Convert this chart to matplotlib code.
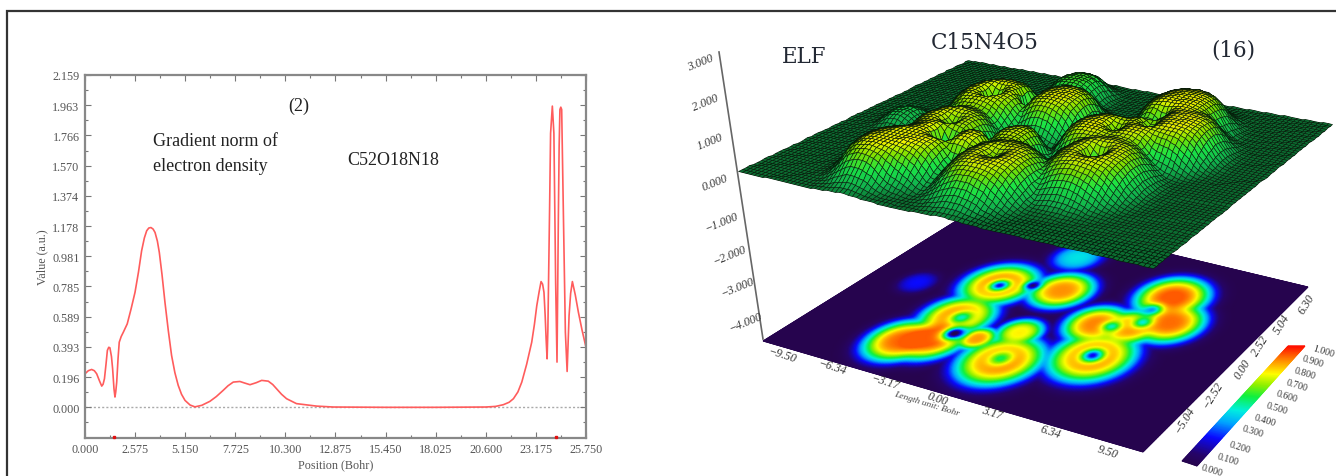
import numpy as np
import matplotlib
matplotlib.use('Agg')
import matplotlib.pyplot as plt
from matplotlib.colors import LinearSegmentedColormap

# -----------------------------------
# Data: line profile (left panel)
# -----------------------------------
pos_bohr = [0.0, 0.17, 0.34, 0.48, 0.6, 0.75, 0.86, 0.93, 1.0, 1.08, 1.15, 1.22, 1.28, 1.36, 1.42, 1.49, 1.54,
            1.58, 1.63, 1.7, 1.76, 1.86, 1.97, 2.17, 2.37, 2.57, 2.75, 2.91, 3.05, 3.17, 3.28, 3.39, 3.5, 3.6,
            3.72, 3.82, 3.96, 4.11, 4.28, 4.45, 4.62, 4.79, 4.96, 5.14, 5.4, 5.65, 6.0, 6.42, 6.75, 7.1, 7.35,
            7.62, 7.96, 8.2, 8.48, 8.8, 9.08, 9.42, 9.65, 9.85, 10.1, 10.36, 10.87, 11.9, 12.76, 15.45, 18.0,
            20.6, 21.1, 21.5, 21.8, 22.02, 22.25, 22.45, 22.7, 22.96, 23.1, 23.22, 23.34, 23.44, 23.52, 23.59,
            23.65, 23.7, 23.75, 23.79, 23.82, 23.88, 23.93, 24.02, 24.1, 24.15, 24.19, 24.26, 24.33, 24.37,
            24.41, 24.455, 24.5, 24.59, 24.69, 24.78, 24.88, 24.96, 25.05, 25.2, 25.36, 25.55, 25.75]
grad_norm = [0.218, 0.238, 0.246, 0.238, 0.218, 0.17, 0.138, 0.15, 0.186, 0.28, 0.37, 0.39, 0.387, 0.33, 0.25,
             0.12, 0.067, 0.1, 0.164, 0.32, 0.423, 0.46, 0.488, 0.542, 0.64, 0.747, 0.88, 1.017, 1.1, 1.147,
             1.165, 1.168, 1.158, 1.136, 1.08, 1.006, 0.86, 0.682, 0.5, 0.337, 0.225, 0.143, 0.085, 0.045, 0.015,
             0.003, 0.013, 0.039, 0.07, 0.11, 0.14, 0.164, 0.168, 0.158, 0.147, 0.16, 0.175, 0.17, 0.148, 0.12,
             0.085, 0.056, 0.024, 0.008, 0.002, 0.0, 0.0, 0.002, 0.006, 0.017, 0.033, 0.056, 0.1, 0.164, 0.28,
             0.423, 0.54, 0.66, 0.75, 0.817, 0.8, 0.747, 0.6, 0.445, 0.315, 0.5, 0.77, 1.3, 1.78, 1.957, 1.78,
             1.25, 0.81, 0.294, 1.24, 1.7, 1.935, 1.95, 1.935, 1.24, 0.488, 0.233, 0.596, 0.74, 0.817, 0.73,
             0.617, 0.5, 0.39]
critical_pts = [1.49, 24.2]

x_major = [0.0, 2.575, 5.15, 7.725, 10.3, 12.875, 15.45, 18.025, 20.6, 23.175, 25.75]
y_major = [0.0, 0.196, 0.393, 0.589, 0.785, 0.981, 1.178, 1.374, 1.570, 1.766, 1.963, 2.159]

# -----------------------------------
# Data: ELF blobs (screen px, size in Bohr, height)
# -----------------------------------
blob_px = [1001, 1093, 1000, 1062, 958, 902, 932, 977, 1020, 1097, 1130, 1170, 1173, 918, 1078]
blob_py = [361, 357, 285, 291, 317, 341, 339, 339, 333, 325, 328, 323, 298, 283, 258]
blob_size = [1.8, 1.85, 1.75, 1.5, 1.65, 1.55, 1.6, 0.85, 1.05, 1.45, 1.4, 1.6, 1.7, 0.9, 1.3]
blob_amp = [0.9, 0.9, 0.9, 0.86, 0.88, 0.9, 0.93, 0.85, 0.75, 0.88, 0.86, 0.9, 0.93, 0.2, 0.4]

hole_px = [1001, 1093, 1000, 1033, 962, 955, 1112, 1153, 1143]
hole_py = [359, 356, 286, 286, 318, 334, 327, 310, 323]
hole_size = [0.5, 0.48, 0.45, 0.36, 0.48, 0.45, 0.42, 0.42, 0.42]
hole_depth = [0.42, 0.8, 0.8, 0.85, 0.5, 1.0, 0.5, 0.55, 0.5]

z_ticks = ['3.000', '2.000', '1.000', '0.000', '\u22121.000', '\u22122.000', '\u22123.000', '\u22124.000']
x3d_ticks = ['\u22129.50', '\u22126.34', '\u22123.17', '0.00', '3.17', '6.34', '9.50']
y3d_ticks = ['\u22125.04', '\u22122.52', '0.00', '2.52', '5.04', '6.30']
cbar_ticks = ['1.000', '0.900', '0.800', '0.700', '0.600', '0.500', '0.400', '0.300', '0.200', '0.100', '0.000']

# -----------------------------------
# Layout, in reference pixels
# -----------------------------------
W, H = 1336, 477
upper_corners = [(738, 172), (1153, 269), (1332, 125), (968, 61)]
lower_corners = [(763, 342), (1143, 453), (1308, 288), (977, 209)]
cbar_corners = [(1182, 462), (1197, 467), (1305, 347), (1288, 347)]
z_tick_xy = [(700, 63), (705, 103), (710, 142), (715, 183), (722, 223), (730, 256), (738, 288), (746, 323)]
x3d_tick_xy = [(782, 356), (832, 368), (885, 383), (937, 399), (992, 413), (1050, 432), (1108, 452)]
y3d_tick_xy = [(1185, 420), (1213, 395), (1243, 370), (1260, 347), (1282, 325), (1307, 305)]
cbar_tick_xy = [(1323, 352), (1313, 362), (1305, 374), (1297, 386), (1287, 397), (1277, 409),
                (1265, 421), (1253, 432), (1240, 448), (1228, 460), (1212, 471)]
BOHR_X, BOHR_Y = 19.0, 12.6
SURF_HEIGHT = 40

plt.rcParams['font.family'] = ['Liberation Serif', 'DejaVu Serif']
GRAY = '#555555'


def homography(corners):
    src = [(0, 0), (1, 0), (1, 1), (0, 1)]
    A, b = [], []
    for (u, v), (x, y) in zip(src, corners):
        A.append([u, v, 1, 0, 0, 0, -u * x, -v * x])
        A.append([0, 0, 0, u, v, 1, -u * y, -v * y])
        b += [x, y]
    return np.append(np.linalg.solve(np.array(A, float), np.array(b, float)), 1).reshape(3, 3)


def warp(M, u, v):
    w = M[2, 0] * u + M[2, 1] * v + M[2, 2]
    return (M[0, 0] * u + M[0, 1] * v + M[0, 2]) / w, (M[1, 0] * u + M[1, 1] * v + M[1, 2]) / w


def to_bohr(M_inv, px, py):
    u, v = warp(M_inv, np.array(px, float), np.array(py, float))
    return u * BOHR_X, v * BOHR_Y


M_upper = homography(upper_corners)
M_lower = homography(lower_corners)
M_inv = np.linalg.inv(M_lower)
blob_x, blob_y = to_bohr(M_inv, blob_px, blob_py)
hole_x, hole_y = to_bohr(M_inv, hole_px, hole_py)


def elf_field(u, v):
    bx, by = u * BOHR_X, v * BOHR_Y
    total = np.zeros_like(bx)
    # soft maximum keeps the gaps between neighbouring basins open
    for cx, cy, s, a in zip(blob_x, blob_y, blob_size, blob_amp):
        r = np.hypot(bx - cx, by - cy)
        total = total + (a * np.exp(-(r / s) ** 3.2)) ** 5
    f = np.minimum(total ** 0.2, 0.92)
    for cx, cy, s, d in zip(hole_x, hole_y, hole_size, hole_depth):
        r = np.hypot(bx - cx, by - cy)
        f = f * (1 - d * np.exp(-(r / s) ** 2))
    return f


fig = plt.figure(figsize=(W / 100, H / 100), dpi=100)

# -----------------------------------
# 1. Left panel: gradient norm profile
# -----------------------------------
ax = fig.add_axes([85 / W, 1 - 438.5 / H, 501 / W, 362.5 / H])
ax.axhline(0, color='#aaaaaa', lw=1, ls=(0, (1.5, 1.5)), zorder=1)
ax.plot(pos_bohr, grad_norm, color='#ff5c5c', lw=1.2, zorder=2)
ax.plot(critical_pts, [-0.192] * len(critical_pts), 's', ms=2, color='#e01010', clip_on=False, zorder=3)
ax.set_xlim(0, 25.75)
ax.set_ylim(-0.196, 2.159)
ax.set_xticks(x_major)
ax.set_xticklabels([f'{t:.3f}' for t in x_major])
ax.set_yticks(y_major)
ax.set_yticklabels([f'{t:.3f}' for t in y_major])
ax.set_xticks(np.arange(1, 20, 2) * 1.2875, minor=True)
ax.set_yticks(np.arange(-1, 22, 2) * 0.09814, minor=True)
ax.tick_params(which='major', direction='in', top=True, right=True, length=4.5, width=0.8, color='#777777',
               labelsize=8.7, labelcolor=GRAY, pad=4)
ax.tick_params(which='minor', direction='in', top=True, right=True, length=2.5, width=0.8, color='#777777')
for s in ax.spines.values():
    s.set_color('#888888')
    s.set_linewidth(1.6)
ax.set_xlabel('Position (Bohr)', fontsize=8.7, color=GRAY, labelpad=2)
ax.set_ylabel('Value (a.u.)', fontsize=8.7, color=GRAY, labelpad=2.5)

# -----------------------------------
# 2. Full-figure layer in reference pixels: right panel and annotations
# -----------------------------------
ov = fig.add_axes([0, 0, 1, 1], facecolor='none')
ov.set_xlim(0, W)
ov.set_ylim(H, 0)
ov.axis('off')

ov.plot([6.5, 6.5, W], [H, 11.5, 11.5], color='#333333', lw=1.6, solid_joinstyle='miter')

for s, x, y, txt in [(13, 299, 106, '(2)'), (13, 153, 142, 'Gradient norm of'),
                     (13, 153, 167, 'electron density'), (13, 347, 161, 'C52O18N18')]:
    ov.text(x, y, txt, fontsize=s, color='#222222', ha='center' if txt == '(2)' else 'left', va='center')

elf_cmap = LinearSegmentedColormap.from_list('elf', [
    (0.0, '#26044e'), (0.07, '#26046a'), (0.2, '#0a0aff'), (0.32, '#00a8ff'), (0.42, '#00f0e0'),
    (0.54, '#10f040'), (0.64, '#90f000'), (0.74, '#ffff00'), (0.87, '#ff8a00'), (1.0, '#ff1000')])
surf_cmap = LinearSegmentedColormap.from_list('surf', [
    (0.0, '#0c6e32'), (0.1, '#10a84a'), (0.3, '#18d040'), (0.55, '#70cc00'), (0.85, '#e4e400'), (1.0, '#f0f000')])

# lower ELF map
uu, vv = np.meshgrid(np.linspace(0, 1, 401), np.linspace(0, 1, 301))
lx, ly = warp(M_lower, uu, vv)
ov.pcolormesh(lx, ly, elf_field(uu, vv), cmap=elf_cmap, vmin=0, vmax=1, shading='gouraud', zorder=2)

# upper relief, rows run back to front so that near cells paint over far ones
nu, nv = 92, 72
uu, vv = np.meshgrid(np.linspace(0, 1, nu + 1), np.linspace(1, 0, nv + 1))
ff = elf_field(uu, vv)
sx, sy = warp(M_upper, uu, vv)
# tops are rounded off, the humps in the relief are flatter than the map values
sy = sy - SURF_HEIGHT * np.tanh(1.7 * ff)
cell = 0.25 * (ff[:-1, :-1] + ff[1:, :-1] + ff[:-1, 1:] + ff[1:, 1:])
du = 0.5 * ((ff[:-1, 1:] - ff[:-1, :-1]) + (ff[1:, 1:] - ff[1:, :-1])) * nu / BOHR_X
dv = 0.5 * ((ff[:-1, :-1] - ff[1:, :-1]) + (ff[:-1, 1:] - ff[1:, 1:])) * nv / BOHR_Y
shade = np.clip(1 - 1.5 * np.clip(du - dv, 0, None) + 0.12 * np.clip(dv - du, 0, None), 0.12, 1.1)
rgb = surf_cmap(np.clip(cell, 0, 1))[..., :3] * shade[..., None]
ov.pcolormesh(sx, sy, np.clip(rgb, 0, 1), edgecolors='#041a08', linewidth=0.42, antialiased=True, zorder=3)

# z axis and tick labels
ov.plot([719, 763], [53, 340], color='#666666', lw=1.2, zorder=4)
for (x, y), t in zip(z_tick_xy, z_ticks):
    ov.text(x, y, t, fontsize=8.6, rotation=22, color='#333333', ha='center', va='center', style='italic', zorder=5)
for (x, y), t in zip(x3d_tick_xy, x3d_ticks):
    ov.text(x, y, t, fontsize=8.6, rotation=-18, color='#333333', ha='center', va='center', style='italic', zorder=5)
ov.text(927, 404, 'Length unit: Bohr', fontsize=6.8, rotation=-17, color='#444444', ha='center', va='center',
        style='italic', zorder=5, rotation_mode='anchor')
for (x, y), t in zip(y3d_tick_xy, y3d_ticks):
    ov.text(x, y, t, fontsize=8.6, rotation=58, color='#333333', ha='center', va='center', style='italic', zorder=5)

# colour bar
M_cbar = homography(cbar_corners)
cu, cv = np.meshgrid(np.linspace(0, 1, 2), np.linspace(0, 1, 201))
bx, by = warp(M_cbar, cu, cv)
ov.pcolormesh(bx, by, cv, cmap=elf_cmap, vmin=0, vmax=1, shading='gouraud', zorder=4)
for (x, y), t in zip(cbar_tick_xy, cbar_ticks):
    ov.text(x, y, t, fontsize=7, rotation=-17, color='#333333', ha='center', va='center', zorder=5)

for x, y, t in [(804, 57, 'ELF'), (985, 43, 'C15N4O5'), (1233, 51, '(16)')]:
    ov.text(x, y, t, fontsize=15.5, color='#222833', ha='center', va='center', family=['DejaVu Serif'], zorder=6)

fig.savefig('out.png', dpi=100)
